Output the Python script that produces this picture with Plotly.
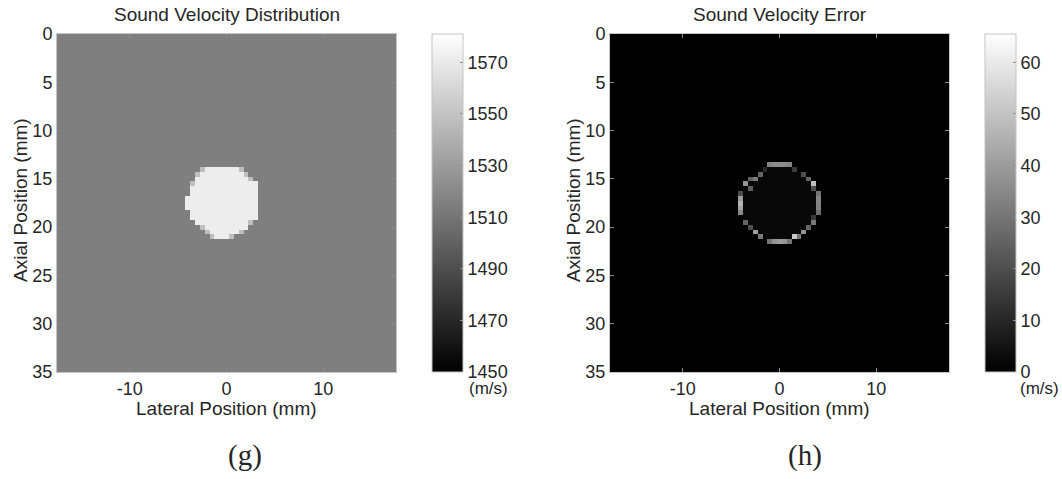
import numpy as np
import plotly.graph_objects as go

# ---------------- data ----------------
lateral_mm = [round(-17.5 + 0.5 * i, 2) for i in range(71)]   # cell centres
axial_mm = [round(0.5 * i, 2) for i in range(71)]

background_velocity = 1515
inclusion_velocity = 1572
edge_velocity = 1548

inc_axial = [14.0, 14.5, 15.0, 15.5, 16.0, 16.5, 17.0, 17.5, 18.0, 18.5, 19.0, 19.5, 20.0, 20.5, 21.0]
inc_left = [-2.0, -3.0, -3.0, -3.5, -3.5, -3.5, -4.0, -4.0, -4.0, -3.5, -3.5, -3.0, -2.5, -2.0, -1.5]
inc_right = [1.0, 2.0, 2.5, 3.0, 3.0, 3.0, 3.0, 3.0, 3.0, 3.0, 3.0, 2.5, 2.0, 1.5, 0.5]

edge_axial = [14.0, 14.0, 14.5, 14.5, 15.0, 15.5, 19.5, 20.0, 20.5, 20.5, 21.0, 21.0]
edge_lateral = [-2.5, 1.5, -3.0, 2.0, 2.5, -3.5, 2.5, -2.5, -2.0, 1.5, -1.5, 0.5]

err_background = 0.0
err_interior = 2.0
err_in_axial = [14.0, 14.5, 15.0, 15.5, 16.0, 16.5, 17.0, 17.5, 18.0, 18.5, 19.0, 19.5, 20.0, 20.5, 21.0]
err_in_half = [1.0, 2.0, 2.5, 3.0, 3.5, 3.5, 3.5, 3.5, 3.5, 3.5, 3.5, 3.0, 2.5, 2.0, 1.0]

err_axial = [13.5, 13.5, 13.5, 13.5, 13.5,
             14.0, 14.0, 14.5, 14.5, 15.0, 15.0, 15.0, 15.5, 15.5, 16.0, 16.0,
             16.5, 17.0, 17.5, 18.0, 18.5,
             16.5, 17.0, 17.5, 18.0, 18.5,
             19.5, 20.0, 20.5, 21.0,
             21.5, 21.5, 21.5, 21.5, 21.5,
             21.0, 21.0, 20.5, 20.0, 19.5, 19.0]
err_lateral = [-1.0, -0.5, 0.0, 0.5, 1.0,
               -1.5, 1.5, -2.0, 2.5, -2.5, -3.0, 3.0, -3.5, 3.5, -3.0, 3.5,
               -4.0, -4.0, -4.0, -4.0, -4.0,
               4.0, 4.0, 4.0, 4.0, 4.0,
               -3.5, -3.0, -2.5, -2.0,
               -1.0, -0.5, 0.0, 0.5, 1.0,
               1.5, 2.0, 2.5, 3.0, 3.5, 3.5]
err_value = [34, 36, 36, 36, 34,
             10, 15, 26, 20, 31, 25, 26, 38, 49, 24, 20,
             20, 40, 46, 42, 35,
             30, 34, 34, 33, 28,
             26, 20, 41, 31,
             30, 38, 40, 38, 30,
             51, 30, 38, 26, 31, 14]

vel_ticks = [1450, 1470, 1490, 1510, 1530, 1550, 1570]
err_ticks = [0, 10, 20, 30, 40, 50, 60]
x_ticks = [-10, 0, 10]
x_tick_text = ["-10", "0", "10"]
y_ticks = [0, 5, 10, 15, 20, 25, 30, 35]

# ---------------- build images ----------------
lat = np.array(lateral_mm)
ax = np.array(axial_mm)
vel = np.full((len(ax), len(lat)), float(background_velocity))
for a, l, r in zip(inc_axial, inc_left, inc_right):
    i = int(np.argmin(np.abs(ax - a)))
    vel[i, (lat >= l - 1e-6) & (lat <= r + 1e-6)] = inclusion_velocity
for a, l in zip(edge_axial, edge_lateral):
    vel[int(np.argmin(np.abs(ax - a))), int(np.argmin(np.abs(lat - l)))] = edge_velocity

err = np.full((len(ax), len(lat)), err_background)
for a, h in zip(err_in_axial, err_in_half):
    i = int(np.argmin(np.abs(ax - a)))
    err[i, np.abs(lat) <= h + 1e-6] = err_interior
for a, l, v in zip(err_axial, err_lateral, err_value):
    err[int(np.argmin(np.abs(ax - a))), int(np.argmin(np.abs(lat - l)))] = v

# ---------------- figure ----------------
W, H = 1062, 479
FONT = "Arial, Liberation Sans, sans-serif"
SERIF = "Times New Roman, Liberation Serif, serif"
TXT = "#262626"
gray = [[0, "#000000"], [1, "#ffffff"]]

def px(x):
    return x / W

def py(y):
    return 1 - y / H

p_top, p_bot = 34, 372
L1, R1 = 57, 396
L2, R2 = 610, 949

def cbar(xleft, tickvals):
    return dict(
        x=px(xleft), xanchor="left", xpad=0,
        y=py(p_bot), yanchor="bottom", ypad=0,
        len=p_bot - p_top, lenmode="pixels",
        thickness=31, thicknessmode="pixels",
        outlinecolor="#c4c4c4", outlinewidth=1,
        tickvals=tickvals, ticks="inside", ticklen=3, tickcolor="#8a8a8a",
        tickfont=dict(family=FONT, size=18, color=TXT),
    )

fig = go.Figure()
fig.add_trace(go.Heatmap(
    x=lateral_mm, y=axial_mm, z=vel, colorscale=gray, zmin=1450, zmax=1581,
    xaxis="x", yaxis="y", colorbar=cbar(432, vel_ticks), hoverinfo="skip"))
fig.add_trace(go.Heatmap(
    x=lateral_mm, y=axial_mm, z=err, colorscale=gray, zmin=0, zmax=65.5,
    xaxis="x2", yaxis="y2", colorbar=cbar(985, err_ticks), hoverinfo="skip"))

def xaxis(l, r, anchor):
    return dict(domain=[px(l), px(r)], range=[-17.5, 17.5], anchor=anchor,
                tickvals=x_ticks, ticktext=x_tick_text,
                ticks="inside", ticklen=4, tickcolor="#8a8a8a",
                showline=True, mirror="ticks", linecolor="#c4c4c4", linewidth=1,
                showgrid=False, zeroline=False, automargin=False,
                tickfont=dict(family=FONT, size=18, color=TXT))

def yaxis(anchor):
    return dict(domain=[py(p_bot), py(p_top)], range=[35, 0], anchor=anchor,
                tickvals=y_ticks, ticks="inside", ticklen=4, tickcolor="#8a8a8a",
                showline=True, mirror="ticks", linecolor="#c4c4c4", linewidth=1,
                showgrid=False, zeroline=False, automargin=False,
                tickfont=dict(family=FONT, size=18, color=TXT))

fig.update_layout(
    width=W, height=H, margin=dict(l=0, r=0, t=0, b=0, autoexpand=False),
    paper_bgcolor="white", plot_bgcolor="white",
    xaxis=xaxis(L1, R1, "y"), yaxis=yaxis("x"),
    xaxis2=xaxis(L2, R2, "y2"), yaxis2=yaxis("x2"),
    showlegend=False,
)

def note(text, x, y, size=19, family=FONT, angle=0, xanchor="center"):
    fig.add_annotation(text=text, x=px(x), y=py(y), xref="paper", yref="paper",
                       xanchor=xanchor, yanchor="middle", showarrow=False,
                       textangle=angle, font=dict(family=family, size=size, color=TXT))

note("Sound Velocity Distribution", (L1 + R1) / 2, 15)
note("Sound Velocity Error", (L2 + R2) / 2, 15)
note("Lateral Position (mm)", (L1 + R1) / 2, 408)
note("Lateral Position (mm)", (L2 + R2) / 2, 408)
note("Axial Position (mm)", 20, 200, angle=-90)
note("Axial Position (mm)", 573, 200, angle=-90)
note("(m/s)", 467, 388, size=17, xanchor="left")
note("(m/s)", 1018, 388, size=17, xanchor="left")
note("(g)", 245, 455, size=29, family=SERIF)
note("(h)", 805, 455, size=29, family=SERIF)

fig.write_html(
    "out.html",
    config={"displayModeBar": False, "staticPlot": True},
    post_script="document.body.style.margin='0';document.body.style.overflow='hidden';",
)
